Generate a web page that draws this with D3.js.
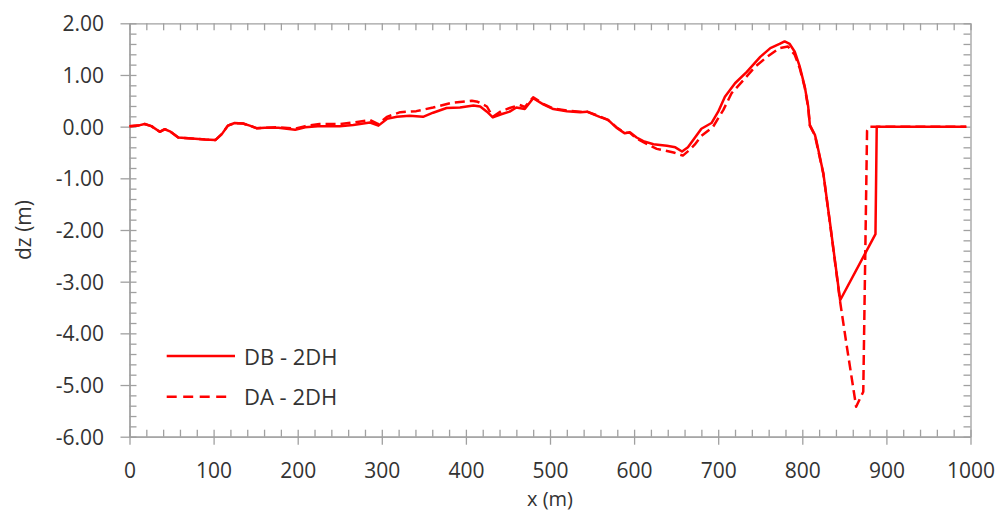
<!DOCTYPE html>
<html><head><meta charset="utf-8">
<script src="https://cdn.jsdelivr.net/npm/d3@7"></script>
<style>
html,body{margin:0;padding:0;background:#fff;}
svg{display:block;font-family:"Open Sans",sans-serif;}
</style></head>
<body><svg id="chart" width="1001" height="510"></svg>
<script>
// ---- data ----
const dbX = [0,10,18,26,36,42,48,58,74,90,102,110,117,125,135,143,151,161,177,197,209,224,250,266,286,296,306,318,333,349,361,377,393,409,417,425,432,442,452,460,470,480,492,504,520,536,544,559,569,579,589,595,603,611,623,639,649,657,664,672,680,692,700,708,720,734,750,762,773,779,785,791,797,803,807,809,815,817,825,833,845,887,888.5,995];
const dbY = [0.01,0.02,0.05,0.01,-0.10,-0.05,-0.09,-0.21,-0.23,-0.25,-0.26,-0.14,0.02,0.07,0.06,0.02,-0.03,-0.02,-0.02,-0.06,-0.01,0.01,0.01,0.03,0.08,0.02,0.15,0.19,0.21,0.19,0.27,0.36,0.37,0.41,0.39,0.29,0.18,0.24,0.29,0.37,0.34,0.55,0.43,0.34,0.30,0.28,0.29,0.19,0.13,-0.02,-0.13,-0.11,-0.21,-0.28,-0.34,-0.37,-0.40,-0.48,-0.40,-0.22,-0.04,0.07,0.29,0.58,0.84,1.06,1.35,1.52,1.60,1.65,1.60,1.45,1.16,0.77,0.39,0.03,-0.16,-0.29,-0.90,-1.87,-3.36,-2.08,0,0];

const daX = [0,10,18,26,36,42,48,58,74,90,102,110,117,125,135,143,151,161,177,197,209,226,250,266,286,296,306,322,341,361,383,407,414,425,432,442,452,464,470,480,492,504,520,536,544,559,569,579,589,595,603,611,627,647,658,666,672,680,694,706,716,730,744,758,773,783,791,797,803,807,809,815,825,833,845,853,861,864,872.5,877,880,995];
const daY = [0.01,0.02,0.05,0.01,-0.10,-0.05,-0.09,-0.21,-0.23,-0.25,-0.26,-0.14,0.02,0.07,0.06,0.02,-0.03,-0.02,-0.01,-0.04,0.01,0.05,0.05,0.08,0.13,0.05,0.19,0.28,0.30,0.37,0.46,0.50,0.48,0.39,0.19,0.30,0.36,0.42,0.38,0.57,0.44,0.35,0.31,0.29,0.29,0.20,0.13,-0.01,-0.12,-0.12,-0.23,-0.30,-0.43,-0.50,-0.56,-0.45,-0.35,-0.18,0.0,0.32,0.65,0.90,1.16,1.35,1.52,1.55,1.39,1.13,0.75,0.37,0.02,-0.17,-0.91,-1.88,-3.39,-4.26,-5.10,-5.42,-5.13,-0.08,0,0];

const seriesNames = ["DB - 2DH","DA - 2DH"];
const xTicks = [0,100,200,300,400,500,600,700,800,900,1000];
const yTicks = [-6,-5,-4,-3,-2,-1,0,1,2];
const xTitle = "x (m)";
const yTitle = "dz (m)";

// ---- layout ----
const svg = d3.select("#chart");
const L = 129.5, R = 970.5, T = 23.3, B = 436.7;
const x = d3.scaleLinear().domain([0,1000]).range([L,R]);
const y = d3.scaleLinear().domain([-6,2]).range([B,T]);
const axisColor = "#a0a0a0", textColor = "#333";
const xMinor = d3.range(0,1000.01,20).filter(v=>v%100!==0);
const yMinor = d3.range(-6,2.001,0.2).map(v=>+v.toFixed(1)).filter(v=>Math.abs(v-Math.round(v))>1e-6);
const fmtY = v => d3.format(".2f")(v).replace("\u2212","-");

function styleAxis(g){
  g.select(".domain").attr("stroke",axisColor).attr("stroke-width",1.3);
  g.selectAll(".tick line").attr("stroke",axisColor).attr("stroke-width",1.3);
}

// top axis (no labels, inward ticks)
svg.append("g").attr("transform",`translate(0,${T})`)
  .call(d3.axisTop(x).tickValues(d3.range(0,1000.01,20)).tickSize(-7).tickSizeOuter(0).tickFormat(""))
  .call(styleAxis);
// right axis (no labels, inward ticks)
svg.append("g").attr("transform",`translate(${R},0)`)
  .call(d3.axisRight(y).tickValues(d3.range(-6,2.001,0.2)).tickSize(-7).tickSizeOuter(0).tickFormat(""))
  .call(styleAxis);

// bottom axis
svg.append("g").attr("transform",`translate(0,${B})`)
  .call(d3.axisBottom(x).tickValues(xMinor).tickSize(-7).tickSizeOuter(0).tickFormat(""))
  .call(styleAxis);
const gx = svg.append("g").attr("transform",`translate(0,${B})`)
  .call(d3.axisBottom(x).tickValues(xTicks).tickSize(8).tickSizeOuter(0).tickFormat(d3.format("d")))
  .call(styleAxis);
gx.selectAll(".tick line").attr("y1",-7);
gx.selectAll(".tick text").attr("y",41).attr("dy",0)
  .attr("fill",textColor).style("font-size","21px").style("font-family","'Open Sans',sans-serif");

// left axis
svg.append("g").attr("transform",`translate(${L},0)`)
  .call(d3.axisLeft(y).tickValues(yMinor).tickSize(-7).tickSizeOuter(0).tickFormat(""))
  .call(styleAxis);
const gy = svg.append("g").attr("transform",`translate(${L},0)`)
  .call(d3.axisLeft(y).tickValues(yTicks).tickSize(9).tickSizeOuter(0).tickFormat(fmtY))
  .call(styleAxis);
gy.selectAll(".tick line").attr("x1",7);
gy.selectAll(".tick text").attr("x",-25.5).attr("dy","0.36em")
  .attr("fill",textColor).style("font-size","21px").style("font-family","'Open Sans',sans-serif");

// series
const line = d3.line().x(d=>x(d[0])).y(d=>y(d[1]));
const dbData = dbX.map((v,i)=>[v,dbY[i]]);
const daData = daX.map((v,i)=>[v,daY[i]]);
svg.append("path").datum(daData).attr("d",line).attr("fill","none")
  .attr("stroke","#ff0000").attr("stroke-width",2.5).attr("stroke-dasharray","10,5")
  .attr("stroke-linejoin","round");
svg.append("path").datum(dbData).attr("d",line).attr("fill","none")
  .attr("stroke","#ff0000").attr("stroke-width",2.5).attr("stroke-linejoin","round");

// legend
const leg = [
  {name:seriesNames[0], y:356, x2:235, dash:null, base:365},
  {name:seriesNames[1], y:396.7, x2:230, dash:"10,6.5", base:405}
];
leg.forEach(l=>{
  svg.append("line").attr("x1",166.7).attr("x2",l.x2).attr("y1",l.y).attr("y2",l.y)
    .attr("stroke","#ff0000").attr("stroke-width",2.5).attr("stroke-dasharray",l.dash);
  svg.append("text").attr("x",244).attr("y",l.base).text(l.name)
    .attr("fill",textColor).style("font-size","22px");
});

// axis titles
svg.append("text").attr("x",(L+R)/2).attr("y",505.5).attr("text-anchor","middle")
  .attr("fill",textColor).style("font-size","20px").text(xTitle);
svg.append("text").attr("transform",`translate(31,230) rotate(-90)`).attr("text-anchor","middle")
  .attr("fill",textColor).style("font-size","21px").text(yTitle);
</script></body></html>
